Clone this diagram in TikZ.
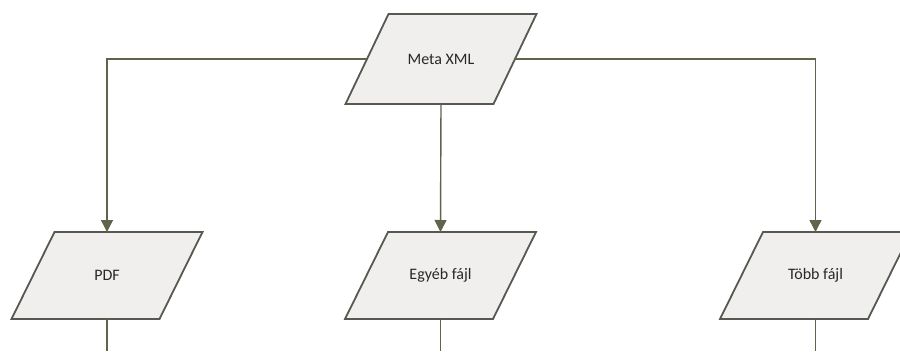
\documentclass[tikz,border=0pt]{standalone}
\usepackage{fontspec}
\setmainfont{Carlito}
\usetikzlibrary{arrows.meta,backgrounds}
\definecolor{linecol}{RGB}{95,100,75}
\definecolor{boxfill}{RGB}{240,239,237}
\definecolor{boxdraw}{RGB}{88,88,82}
\definecolor{txtcol}{RGB}{40,40,40}
\newcommand\ioshape[1]{%
  \path[iodraw] ([xshift=21.5pt]#1.north west) -- ([xshift=21.5pt]#1.north east)
    -- ([xshift=-21.5pt]#1.south east) -- ([xshift=-21.5pt]#1.south west) -- cycle;}
\begin{document}
\begin{tikzpicture}[x=1pt,y=-1pt,
  io/.style={rectangle, minimum width=148pt, minimum height=87pt,
    inner sep=0pt, outer sep=0pt, text=txtcol, font=\fontsize{16}{19}\selectfont},
  iodraw/.style={draw=boxdraw, fill=boxfill, line width=1.8pt, line join=miter},
  conn/.style={draw=linecol, line width=1.4pt, -{Triangle[length=12pt,width=12pt]}},
  stub/.style={draw=linecol, line width=1.4pt}]
\useasboundingbox (0,0) rectangle (900,351);
\node[io, minimum height=90pt] (meta) at (441,59) {Meta XML};
\node[io] (pdf) at (107,275.5) {PDF};
\node[io] (egyeb) at (440.5,275.5) {Egyéb fájl};
\node[io] (tobb) at (815.5,275.5) {Több fájl};
\begin{scope}[on background layer]
  \ioshape{meta}
  \ioshape{pdf}
  \ioshape{egyeb}
  \ioshape{tobb}
\end{scope}
\coordinate (pdfend) at (107,351);
\coordinate (egyebend) at (440.5,351);
\coordinate (tobbend) at (815.5,351);
\draw[conn] (meta.west) -| (pdf.north);
\draw[conn] (meta.south) -- (egyeb.north);
\draw[conn] (meta.east) -| (tobb.north);
\draw[stub] (pdf.south) -- (pdfend);
\draw[stub] (egyeb.south) -- (egyebend);
\draw[stub] (tobb.south) -- (tobbend);
\end{tikzpicture}
\end{document}
